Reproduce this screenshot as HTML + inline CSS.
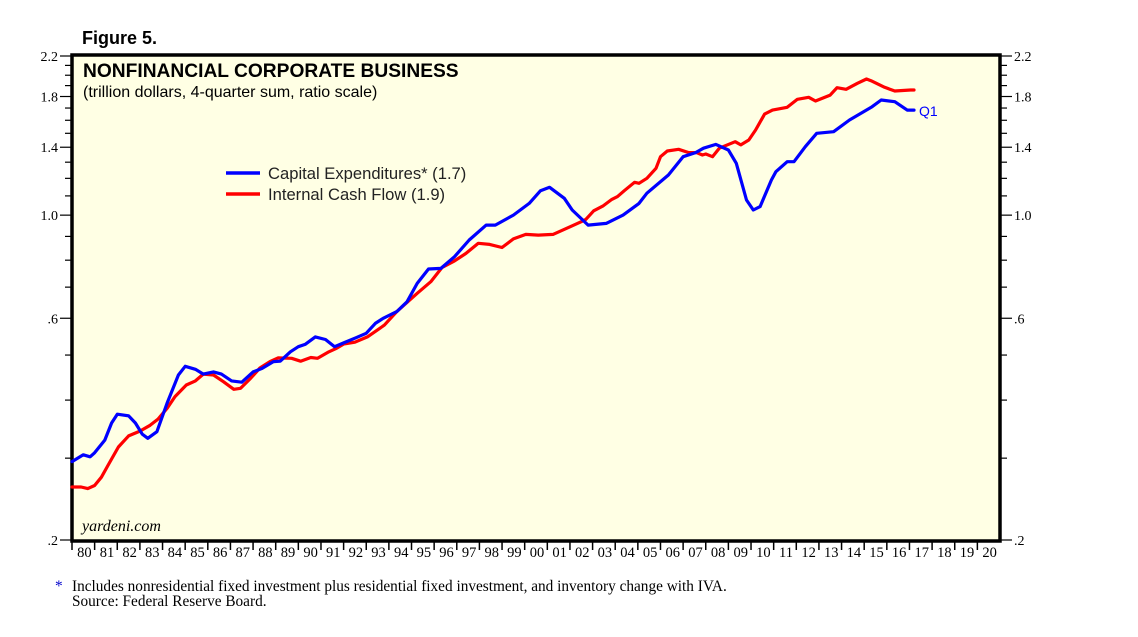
<!DOCTYPE html>
<html><head><meta charset="utf-8"><style>
body{margin:0;background:#fff;}
svg{display:block;font-family:"Liberation Sans",sans-serif;}
</style></head><body>
<svg id="chart" width="1138" height="637" viewBox="0 0 1138 637" xmlns="http://www.w3.org/2000/svg">
<text x="82" y="44" font-size="18" font-weight="bold">Figure 5.</text>
<rect x="72" y="55" width="928" height="486" fill="#ffffe4" stroke="#000" stroke-width="3.5"/>
<g id="axes"></g>
<g id="series"></g>
<text x="83" y="77" font-size="19.2" font-weight="bold">NONFINANCIAL CORPORATE BUSINESS</text>
<text x="83" y="97" font-size="16">(trillion dollars, 4-quarter sum, ratio scale)</text>
<g>
<line x1="226" y1="173" x2="260" y2="173" stroke="#0000ff" stroke-width="3.5"/>
<text x="268" y="179" font-size="16.6" fill="#222">Capital Expenditures* (1.7)</text>
<line x1="226" y1="194" x2="260" y2="194" stroke="#ff0000" stroke-width="3.5"/>
<text x="268" y="200" font-size="16.6" fill="#222">Internal Cash Flow (1.9)</text>
</g>
<text x="919" y="116" font-size="14" fill="#0000ff">Q1</text>
<text x="82" y="531" font-size="16" font-style="italic" font-family="Liberation Serif, serif">yardeni.com</text>
<text x="55" y="591" font-size="15.3" font-family="Liberation Serif, serif"><tspan fill="#0000cc">*</tspan><tspan x="72">Includes nonresidential fixed investment plus residential fixed investment, and inventory change with IVA.</tspan></text>
<text x="72" y="606" font-size="15.3" font-family="Liberation Serif, serif">Source: Federal Reserve Board.</text>
</svg>
<script>
const capexDates=[1980.0,1980.5,1980.8,1981.0,1981.45,1981.75,1982.0,1982.5,1982.8,1983.1,1983.35,1983.75,1984.2,1984.7,1985.0,1985.45,1985.8,1986.25,1986.6,1987.05,1987.5,1988.0,1988.4,1988.9,1989.2,1989.65,1990.0,1990.3,1990.75,1991.2,1991.6,1992.0,1992.55,1993.0,1993.4,1993.75,1994.35,1994.8,1995.25,1995.75,1996.3,1996.9,1997.55,1998.3,1998.7,1999.5,2000.2,2000.7,2001.1,2001.75,2002.1,2002.8,2003.6,2004.35,2005.05,2005.4,2006.35,2007.0,2007.55,2007.9,2008.45,2009.0,2009.35,2009.8,2010.1,2010.4,2010.9,2011.1,2011.6,2011.9,2012.4,2012.9,2013.65,2014.35,2015.35,2015.75,2016.35,2016.9,2017.2];
const capexValues=[0.295,0.305,0.302,0.308,0.328,0.357,0.373,0.370,0.357,0.338,0.331,0.342,0.394,0.453,0.473,0.466,0.455,0.460,0.455,0.440,0.437,0.460,0.468,0.484,0.485,0.508,0.521,0.527,0.547,0.540,0.521,0.531,0.545,0.557,0.585,0.600,0.620,0.651,0.713,0.766,0.768,0.814,0.884,0.952,0.952,1.000,1.060,1.129,1.148,1.087,1.026,0.952,0.960,1.000,1.060,1.115,1.220,1.336,1.363,1.393,1.420,1.381,1.293,1.078,1.026,1.043,1.190,1.240,1.303,1.303,1.404,1.500,1.512,1.602,1.711,1.769,1.754,1.683,1.683];
const cashDates=[1980.0,1980.4,1980.7,1981.0,1981.3,1981.6,1982.05,1982.5,1983.0,1983.45,1983.8,1984.2,1984.55,1985.05,1985.45,1985.8,1986.25,1986.7,1987.15,1987.45,1987.9,1988.3,1988.75,1989.1,1989.7,1990.1,1990.55,1990.85,1991.35,1991.65,1992.0,1992.5,1993.05,1993.8,1994.35,1995.25,1995.85,1996.35,1996.9,1997.4,1997.95,1998.45,1999.0,1999.5,2000.05,2000.6,2001.25,2002.0,2002.5,2002.7,2003.05,2003.45,2003.85,2004.1,2004.4,2004.85,2005.05,2005.4,2005.8,2006.0,2006.3,2006.8,2007.25,2007.6,2007.85,2008.0,2008.3,2008.6,2009.3,2009.55,2009.9,2010.2,2010.6,2010.95,2011.6,2012.05,2012.55,2012.85,2013.5,2013.8,2014.2,2014.7,2015.1,2015.3,2015.9,2016.35,2017.05,2017.2];
const cashValues=[0.260,0.260,0.258,0.262,0.273,0.290,0.317,0.335,0.343,0.353,0.364,0.384,0.407,0.431,0.440,0.455,0.453,0.438,0.422,0.424,0.446,0.469,0.484,0.493,0.492,0.485,0.494,0.492,0.508,0.516,0.528,0.533,0.547,0.580,0.620,0.679,0.719,0.772,0.797,0.827,0.870,0.865,0.852,0.889,0.909,0.906,0.909,0.944,0.968,0.979,1.022,1.046,1.081,1.096,1.129,1.177,1.171,1.200,1.261,1.336,1.374,1.386,1.363,1.363,1.347,1.354,1.336,1.393,1.439,1.416,1.451,1.525,1.650,1.683,1.706,1.775,1.793,1.760,1.813,1.880,1.865,1.922,1.963,1.947,1.884,1.850,1.859,1.859];
const yLabelValues=[0.2,0.6,1.0,1.4,1.8,2.2];
const yLabelText=[".2",".6","1.0","1.4","1.8","2.2"];
const yearLabels=["80","81","82","83","84","85","86","87","88","89","90","91","92","93","94","95","96","97","98","99","00","01","02","03","04","05","06","07","08","09","10","11","12","13","14","15","16","17","18","19","20"];

const NS="http://www.w3.org/2000/svg";
const X0=72,X1=1000,Y0=540,Y1=56,YMIN=0.2,YMAX=2.2,T0=1980,T1=2021;
function xs(t){return X0+(t-T0)/(T1-T0)*(X1-X0);}
function ys(v){return Y0-(Math.log(v)-Math.log(YMIN))/(Math.log(YMAX)-Math.log(YMIN))*(Y0-Y1);}
function mk(tag,attrs,parent){const e=document.createElementNS(NS,tag);for(const k in attrs)e.setAttribute(k,attrs[k]);parent.appendChild(e);return e;}
const axes=document.getElementById('axes');
for(let i=2;i<=22;i++){
  const v=i/10,y=ys(v);
  const major=yLabelValues.some(a=>Math.abs(a-v)<1e-6);
  const len=major?10:5;
  const l=mk('line',{x1:X0-2-len,y1:y,x2:X0,y2:y,stroke:'#000','stroke-width':1.2},axes);
  
  
  const r=mk('line',{x1:X1,y1:y,x2:X1+2+len,y2:y,stroke:'#000','stroke-width':1.2},axes);
  
  
}
yLabelValues.forEach((v,i)=>{
  const y=ys(v)+5;
  const a=mk('text',{x:X0-14,y:y,'text-anchor':'end','font-size':14,'font-family':'Liberation Serif, serif'},axes);
  a.textContent=yLabelText[i];
  
  
  const b=mk('text',{x:X1+14,y:y,'font-size':14,'font-family':'Liberation Serif, serif'},axes);
  b.textContent=yLabelText[i];
  
  
});
yearLabels.forEach((s,i)=>{
  const x=xs(T0+i);
  const t=mk('line',{x1:x,y1:541,x2:x,y2:550,stroke:'#000','stroke-width':1.5},axes);
  
  
  const tx=mk('text',{x:xs(T0+i+0.5)+1,y:557,'text-anchor':'middle','font-size':14.5,'font-family':'Liberation Serif, serif'},axes);
  tx.textContent=s;
  
  
});
const series=document.getElementById('series');
function line(dates,vals,color,name){
  const d=dates.map((t,i)=>(i?'L':'M')+xs(t).toFixed(1)+' '+ys(vals[i]).toFixed(1)).join(' ');
  const p=mk('path',{d:d,fill:'none',stroke:color,'stroke-width':3.2,'stroke-linejoin':'round','stroke-linecap':'round'},series);
  
  
}
line(cashDates,cashValues,'#ff0000','internal-cash-flow-line');
line(capexDates,capexValues,'#0000ff','capital-expenditures-line');
</script>
</body></html>
